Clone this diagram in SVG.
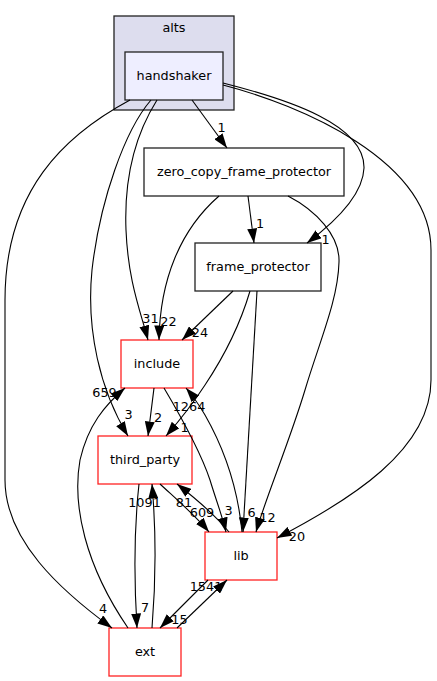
<svg xmlns="http://www.w3.org/2000/svg" width="437" height="681" viewBox="0 0 437 681">
<style>
text{font-family:"DejaVu Sans","Liberation Sans",sans-serif;font-size:12.8px;fill:#000;text-anchor:middle}
.cl{fill:#ddddee;stroke:#222;stroke-width:1.3}
.hs{fill:#eeeeff;stroke:#222;stroke-width:1.3}
.nd{fill:#fff;stroke:#222;stroke-width:1.3}
.rd{fill:#fff;stroke:#ff2222;stroke-width:1.3}
.e{fill:none;stroke:#000;stroke-width:1.1;marker-end:url(#ah)}
</style>
<defs>
<marker id="ah" markerUnits="userSpaceOnUse" viewBox="0 0 14.5 10" refX="14.5" refY="5" markerWidth="14.5" markerHeight="10" orient="auto">
<path d="M0,0 L14.5,5 L0,10 z" fill="#000" stroke="none"/>
</marker>
</defs>
<rect width="437" height="681" fill="#fff"/>
<g id="cluster_alts">
<rect class="cl" x="114" y="16" width="120" height="94"/>
<text x="174" y="32">alts</text>
</g>
<g id="node_handshaker">
<rect class="hs" x="125" y="52" width="98" height="48"/>
<text x="174" y="80">handshaker</text>
</g>
<g id="node_zero_copy_frame_protector">
<rect class="nd" x="144" y="148" width="200" height="48"/>
<text x="244" y="176">zero_copy_frame_protector</text>
</g>
<g id="node_frame_protector">
<rect class="nd" x="195" y="243" width="126" height="48"/>
<text x="258" y="271">frame_protector</text>
</g>
<g id="node_include">
<rect class="rd" x="121" y="340" width="72" height="48"/>
<text x="157" y="368">include</text>
</g>
<g id="node_third_party">
<rect class="rd" x="98" y="436" width="94" height="48"/>
<text x="145" y="464">third_party</text>
</g>
<g id="node_lib">
<rect class="rd" x="205" y="532" width="72" height="48"/>
<text x="241" y="560">lib</text>
</g>
<g id="node_ext">
<rect class="rd" x="109" y="628" width="72" height="48"/>
<text x="145" y="656">ext</text>
</g>
<g id="connectors">
<path class="e" d="M192,100 L227,148"/>
<text x="221.5" y="132">1</text>
<path class="e" d="M223,83 C290,100 365,125 364,168 C363,195 335,222 307,243"/>
<text x="325.5" y="244">1</text>
<path class="e" d="M223,85 C300,105 431,160 431,250 L431,380 C431,450 350,500 277,538"/>
<text x="297" y="541">20</text>
<path class="e" d="M157,100 C135,135 124,180 126,230 C128,280 140,310 148,340"/>
<text x="150.5" y="323">31</text>
<path class="e" d="M151,100 C125,130 100,200 92,270 C86,330 100,390 128,436"/>
<text x="128.5" y="419">3</text>
<path class="e" d="M130,100 C65,135 5,190 5,300 L5,480 C5,540 60,590 112,628"/>
<text x="103" y="613">4</text>
<path class="e" d="M248,196 L254,243"/>
<text x="260" y="228">1</text>
<path class="e" d="M219,196 C180,230 160,280 159,340"/>
<text x="168.5" y="326">22</text>
<path class="e" d="M288,196 C315,210 340,235 339,262 C338,300 320,340 305,390 C290,440 265,500 256,532"/>
<text x="267.5" y="521.5">12</text>
<path class="e" d="M233,291 L182,340"/>
<text x="200" y="337">24</text>
<path class="e" d="M250,291 C240,325 225,355 205,385 C192,405 180,420 166,436"/>
<text x="184.5" y="431.5">1</text>
<path class="e" d="M257,291 L243,532"/>
<text x="251.5" y="517">6</text>
<path class="e" d="M154,388 L148,436"/>
<text x="158" y="421.5">2</text>
<path class="e" d="M164,388 C180,415 200,450 210,480 C216,500 222,515 226,532"/>
<text x="228.5" y="515">3</text>
<path class="e" d="M242,532 C238,490 225,450 205,415 C198,403 192,395 186,388"/>
<text x="189" y="411">1264</text>
<path class="e" d="M160,484 C175,498 195,515 209,532"/>
<text x="202" y="517">609</text>
<path class="e" d="M229,532 C215,515 195,498 177,484"/>
<text x="184" y="506.5">81</text>
<path class="e" d="M139,484 C134,530 134,580 137,628"/>
<text x="145" y="612">7</text>
<path class="e" d="M152,628 C156,580 156,530 152,484"/>
<text x="144.5" y="506.5">1091</text>
<path class="e" d="M128,628 C85,565 72,505 80,460 C88,425 105,405 125,388"/>
<text x="104.5" y="397">659</text>
<path class="e" d="M177,628 L227,580"/>
<text x="206" y="591">1541</text>
<path class="e" d="M208,580 L160,628"/>
<text x="179.5" y="624">15</text>
</g>
</svg>
